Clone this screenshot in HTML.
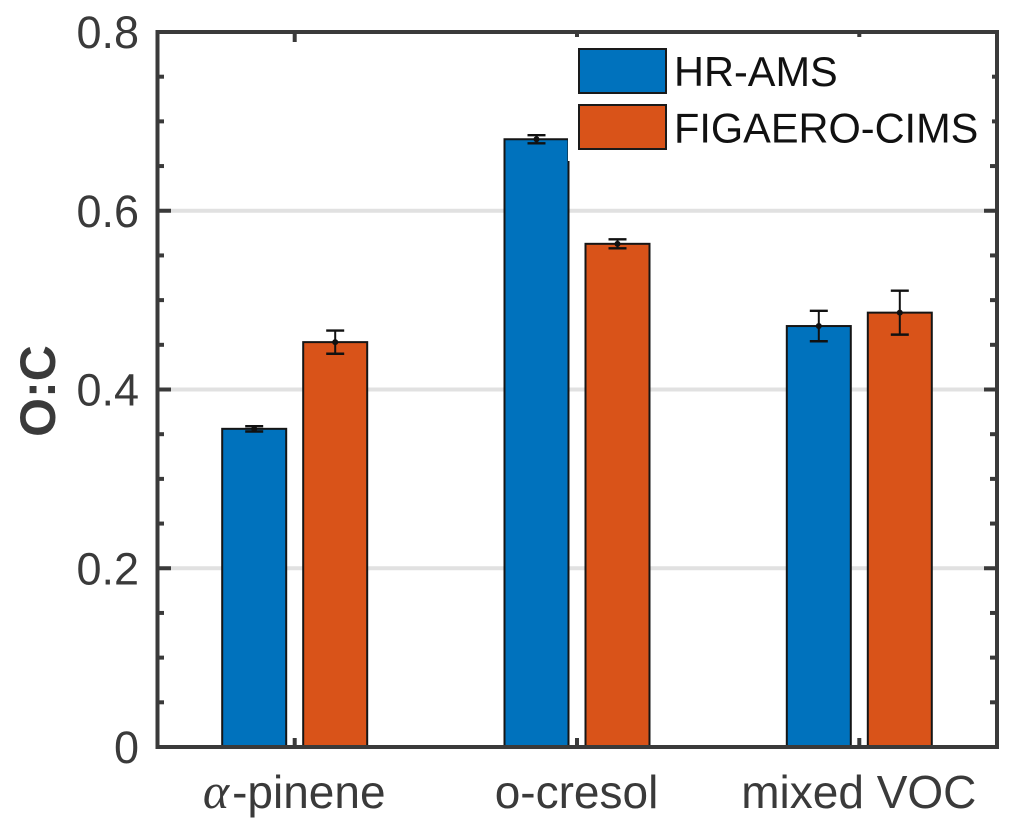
<!DOCTYPE html>
<html lang="en">
<head>
<meta charset="utf-8">
<title>O:C bar chart</title>
<style>
  html, body { margin: 0; padding: 0; background: #fff; }
  svg { display: block; font-family: "Liberation Sans", Arial, sans-serif; }
</style>
</head>
<body>
<svg id="chart" xmlns="http://www.w3.org/2000/svg" width="1017" height="836" viewBox="0 0 1017 836">
  <rect x="0" y="0" width="1017" height="836" fill="#ffffff"/>
  <g id="grid"></g>
  <g id="bars"></g>
  <g id="errors"></g>
  <g id="ticks"></g>
  <rect x="568" y="37" width="424" height="124" fill="#ffffff"/>
  <g id="frame">
    <line x1="157.5" y1="30" x2="157.5" y2="749" stroke="#3a3a3a" stroke-width="4"/>
    <line x1="997" y1="30" x2="997" y2="749" stroke="#3a3a3a" stroke-width="4"/>
    <line x1="155.5" y1="32" x2="999" y2="32" stroke="#3a3a3a" stroke-width="4"/>
    <line x1="155.5" y1="747" x2="999" y2="747" stroke="#3a3a3a" stroke-width="4"/>
  </g>
  <g id="labels"></g>
  <text transform="translate(55,391) rotate(-90)" text-anchor="middle" font-size="50" font-weight="bold" fill="#3a3a3a">O:C</text>
  <g>
    <g>
      <rect x="579" y="49" width="87" height="44" fill="#0072bd" stroke="#1a1a1a" stroke-width="2"/>
      <text x="674" y="86" font-size="41.5" fill="#111111">HR-AMS</text>
    </g>
    <g>
      <rect x="579" y="105" width="87" height="44" fill="#d95319" stroke="#1a1a1a" stroke-width="2"/>
      <text x="674" y="142.5" font-size="41.5" fill="#111111">FIGAERO-CIMS</text>
    </g>
  </g>
</svg>
<script>
const categories = ["-pinene", "o-cresol", "mixed VOC"];
const seriesNames = ["HR-AMS", "FIGAERO-CIMS"];
const hrAmsValues = [0.356, 0.680, 0.471];
const figaeroValues = [0.453, 0.563, 0.486];
const hrAmsErrors = [0.003, 0.0045, 0.017];
const figaeroErrors = [0.013, 0.005, 0.0246];
const yTickValues = [0, 0.2, 0.4, 0.6, 0.8];
const yTickLabels = ["0", "0.2", "0.4", "0.6", "0.8"];
const yMinorValues = [0.05, 0.1, 0.15, 0.25, 0.3, 0.35, 0.45, 0.5, 0.55, 0.65, 0.7, 0.75];
const gridValues = [0.2, 0.4, 0.6];

const NS = "http://www.w3.org/2000/svg";
const yScale = function (v) { return 747 - v * 893.75; };
const xScale = function (i) { return 294.7 + i * 282.3; };
const BAR_OFFSET = 40.5;
const BAR_WIDTH = 64;
const AXIS_COLOR = "#3a3a3a";

function make(tag, attrs, parent) {
  const node = document.createElementNS(NS, tag);
  Object.keys(attrs).forEach(function (k) { node.setAttribute(k, attrs[k]); });
  parent.appendChild(node);
  return node;
}

const gridGroup = document.getElementById("grid");
const barGroup = document.getElementById("bars");
const errorGroup = document.getElementById("errors");
const tickGroup = document.getElementById("ticks");
const labelGroup = document.getElementById("labels");

gridValues.forEach(function (v) {
  const line = make("line", { x1: 158, x2: 997, y1: yScale(v), y2: yScale(v), stroke: "#e1e1e1", "stroke-width": 4 }, gridGroup);
  
  
});

const seriesValues = [hrAmsValues, figaeroValues];
const seriesErrors = [hrAmsErrors, figaeroErrors];
const seriesColors = ["#0072bd", "#d95319"];
const seriesSides = [-1, 1];

seriesValues.forEach(function (values, s) {
  values.forEach(function (v, i) {
    const cx = xScale(i) + seriesSides[s] * BAR_OFFSET;
    const top = yScale(v);
    const bar = make("rect", { x: cx - BAR_WIDTH / 2, y: top, width: BAR_WIDTH, height: 747 - top, fill: seriesColors[s], stroke: "#151515", "stroke-width": 2 }, barGroup);
    
    

    const err = seriesErrors[s][i];
    const yHi = yScale(v + err);
    const yLo = yScale(v - err);
    const stem = make("line", { x1: cx, x2: cx, y1: yHi, y2: yLo, stroke: "#111111", "stroke-width": 2 }, errorGroup);
    
    
    const capTop = make("line", { x1: cx - 9, x2: cx + 9, y1: yHi, y2: yHi, stroke: "#111111", "stroke-width": 2.4 }, errorGroup);
    
    
    const capBottom = make("line", { x1: cx - 9, x2: cx + 9, y1: yLo, y2: yLo, stroke: "#111111", "stroke-width": 2.4 }, errorGroup);
    
    
    const dot = make("circle", { cx: cx, cy: top, r: 3, fill: "#111111" }, errorGroup);
    
    
  });
});

yTickValues.forEach(function (v, i) {
  const y = yScale(v);
  const left = make("line", { x1: 158, x2: 171, y1: y, y2: y, stroke: AXIS_COLOR, "stroke-width": 4 }, tickGroup);
  
  
  const right = make("line", { x1: 984, x2: 997, y1: y, y2: y, stroke: AXIS_COLOR, "stroke-width": 4 }, tickGroup);
  
  
  const label = make("text", { x: 139, y: y + 16, "text-anchor": "end", "font-size": 45, fill: AXIS_COLOR }, labelGroup);
  label.textContent = yTickLabels[i];
  
  
});

yMinorValues.forEach(function (v) {
  const y = yScale(v);
  const left = make("line", { x1: 158, x2: 164, y1: y, y2: y, stroke: AXIS_COLOR, "stroke-width": 4 }, tickGroup);
  
  
  const right = make("line", { x1: 990, x2: 997, y1: y, y2: y, stroke: AXIS_COLOR, "stroke-width": 4 }, tickGroup);
  
  
});

categories.forEach(function (name, i) {
  const x = xScale(i);
  const bottom = make("line", { x1: x, x2: x, y1: 738, y2: 747, stroke: AXIS_COLOR, "stroke-width": 4 }, tickGroup);
  
  
  const top = make("line", { x1: x, x2: x, y1: 32, y2: 42, stroke: AXIS_COLOR, "stroke-width": 4 }, tickGroup);
  
  

  const label = make("text", { x: x - 0.5, y: 808, "text-anchor": "middle", "font-size": 46, fill: AXIS_COLOR }, labelGroup);
  
  
  if (i === 0) {
    const alpha = make("tspan", { "font-family": "'Liberation Serif', serif", "font-style": "italic", "font-size": 50 }, label);
    alpha.textContent = "\u03B1";
    
    
    const rest = make("tspan", { dx: 3 }, label);
    rest.textContent = name;
    
    
  } else {
    label.textContent = name;
  }
});
</script>
</body>
</html>
